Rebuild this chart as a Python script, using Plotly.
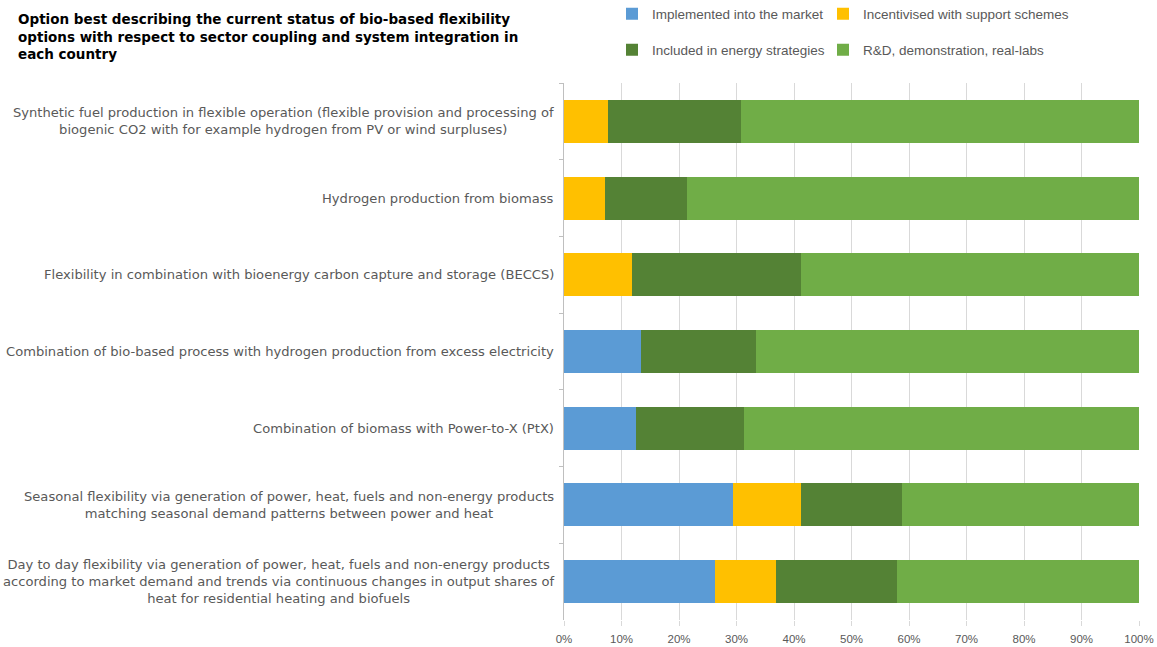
import plotly.graph_objects as go

categories = [
    "Synthetic fuel production in flexible operation (flexible provision and processing of<br>biogenic CO2 with for example hydrogen from PV or wind surpluses)",
    "Hydrogen production from biomass",
    "Flexibility in combination with bioenergy carbon capture and storage (BECCS)",
    "Combination of bio-based process with hydrogen production from excess electricity",
    "Combination of biomass with Power-to-X (PtX)",
    "Seasonal flexibility via generation of power, heat, fuels and non-energy products<br>matching seasonal demand patterns between power and heat",
    "Day to day flexibility via generation of power, heat, fuels and non-energy products<br>according to market demand and trends via continuous changes in output shares of<br>heat for residential heating and biofuels",
]
series_names = [
    "Implemented into the market",
    "Incentivised with support schemes",
    "Included in energy strategies",
    "R&D, demonstration, real-labs",
]
implemented = [0, 0, 0, 13.33, 12.5, 29.41, 26.32]
incentivised = [7.69, 7.14, 11.76, 0, 0, 11.76, 10.53]
strategies = [23.08, 14.29, 29.41, 20.0, 18.75, 17.65, 21.05]
rnd = [69.23, 78.57, 58.82, 66.67, 68.75, 41.18, 42.10]
x_ticks = [0, 10, 20, 30, 40, 50, 60, 70, 80, 90, 100]
x_tick_labels = ["0%", "10%", "20%", "30%", "40%", "50%", "60%", "70%", "80%", "90%", "100%"]
title_text = ("Option best describing the current status of bio-based flexibility<br>"
              "options with respect to sector coupling and system integration in<br>"
              "each country")

colors = ["#5B9BD5", "#FFC000", "#548235", "#70AD47"]
legend_ids = ["legend", "legend2", "legend3", "legend4"]
TXT = "#595959"
LBL_FONT = "DejaVu Sans"
SMALL_FONT = "Liberation Sans"

W, H = 1157, 647
L, R, T, B = 564, 18, 83, 27
PW = W - L - R

fig = go.Figure()
for name, vals, col, lg in zip(series_names, [implemented, incentivised, strategies, rnd], colors, legend_ids):
    fig.add_trace(go.Bar(
        y=categories, x=vals, name=name, orientation="h",
        marker=dict(color=col, line=dict(width=0)),
        legend=lg, showlegend=True,
    ))

for cat in categories:
    fig.add_annotation(
        x=0, xref="paper", y=cat, yref="y",
        text=cat, showarrow=False, xanchor="right", yanchor="middle",
        align="center", xshift=-8,
        font=dict(family=LBL_FONT, size=13.1, color=TXT),
    )

# legend placement (left px, centre px) for each entry
leg_pos = [(612, 14), (823, 14), (612, 50), (823, 50)]
legend_layout = {}
for lg, (lx, cy) in zip(legend_ids, leg_pos):
    legend_layout[lg] = dict(
        orientation="h", x=(lx - L) / PW, xanchor="left",
        y=1 - cy / H, yref="container", yanchor="middle",
        font=dict(family=SMALL_FONT, size=13.5, color=TXT),
        bgcolor="rgba(0,0,0,0)",
    )

fig.update_layout(
    width=W, height=H,
    showlegend=True,
    barmode="stack", bargap=0.44,
    plot_bgcolor="white", paper_bgcolor="white",
    margin=dict(l=L, r=R, t=T, b=B, autoexpand=False),
    font=dict(family=SMALL_FONT, size=12, color=TXT),
    title=dict(
        text=title_text, x=18 / W, xanchor="left", xref="container",
        y=1 - 24 / H, yanchor="top", yref="container",
        font=dict(family=LBL_FONT, size=13.5, color="black", weight="bold"),
    ),
    xaxis=dict(
        range=[0, 100], tickvals=x_ticks, ticktext=x_tick_labels,
        showgrid=True, gridcolor="#D9D9D9", gridwidth=1, zeroline=False,
        showline=False, ticks="outside", ticklen=5, tickcolor="#D9D9D9",
        ticklabelstandoff=3,
        tickfont=dict(family=SMALL_FONT, size=11.5, color=TXT),
        fixedrange=True, automargin=False,
    ),
    yaxis=dict(
        autorange="reversed", showticklabels=False, showline=True,
        linecolor="#BFBFBF", linewidth=1, ticks="outside", tickson="boundaries",
        ticklen=4, tickcolor="#BFBFBF", showgrid=False, fixedrange=True,
        automargin=False,
    ),
    **legend_layout,
)

fig.write_html("out.html")
